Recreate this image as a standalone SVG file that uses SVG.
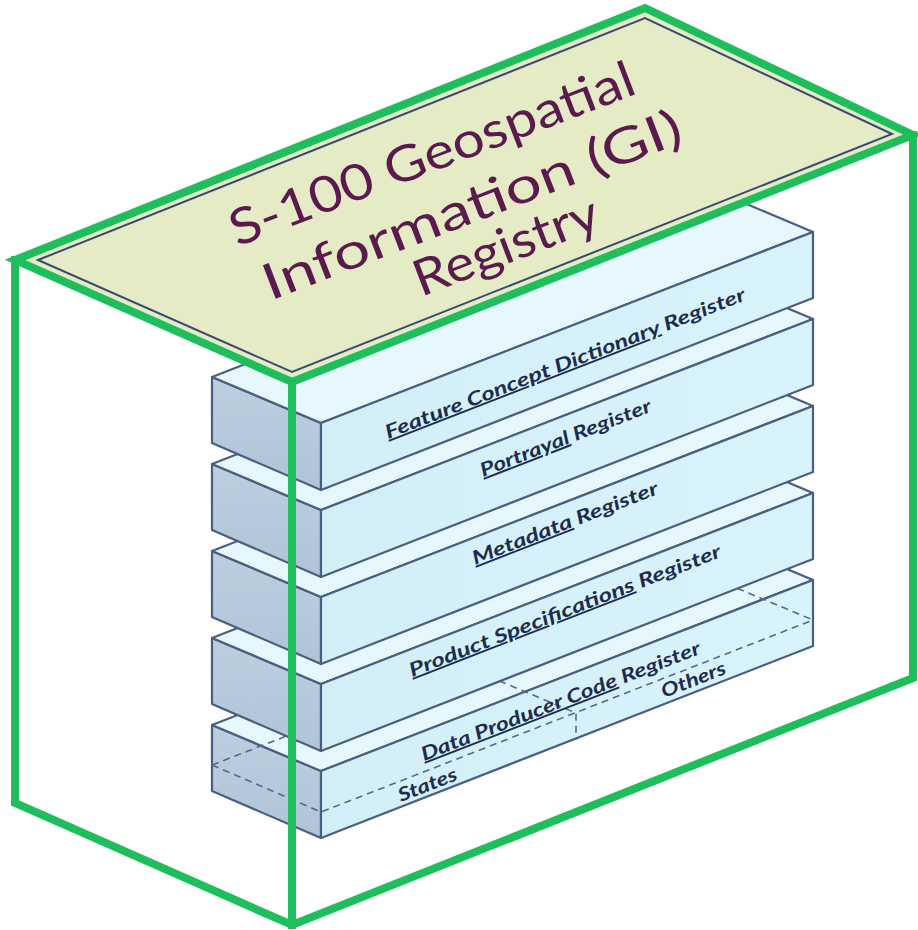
<svg xmlns="http://www.w3.org/2000/svg" width="918" height="930" viewBox="0 0 918 930">
  <defs>
    <linearGradient id="gEnd" x1="0" y1="0" x2="0" y2="1">
      <stop offset="0" stop-color="#bccfdf"/>
      <stop offset="1" stop-color="#b0c4d6"/>
    </linearGradient>
    <linearGradient id="gFront" x1="0" y1="0" x2="1" y2="0">
      <stop offset="0" stop-color="#d2eff8"/>
      <stop offset="1" stop-color="#d9f3fb"/>
    </linearGradient>
  </defs>
  <style>
    .end { fill: url(#gEnd); stroke: #4a5e80; stroke-width: 2.2; stroke-linejoin: round; }
    .top { fill: #e6f8fd; stroke: #4a5e80; stroke-width: 2.2; stroke-linejoin: round; }
    .front { fill: url(#gFront); stroke: #4a5e80; stroke-width: 2.2; stroke-linejoin: round; }
    .dash { fill: none; stroke: #55698a; stroke-width: 1.6; stroke-dasharray: 7 5; }
    .lbl { font-family: Lato, "Open Sans", sans-serif; font-weight: bold; font-style: italic; font-size: 19px; fill: #1e2c4c; }
    .ul { text-decoration: underline; }
    .title { font-family: Lato, "Open Sans", sans-serif; font-size: 50px; fill: #5a1a4e; text-anchor: middle; }
    .green { fill: none; stroke: #1fbe5c; stroke-width: 8; stroke-linejoin: miter; stroke-linecap: square; }
  </style>

  <!-- Registers, painted bottom to top -->
  <g id="register-data-producer-code">
    <path class="end" d="M212,725 L321,771 L321,838 L212,791 Z"/>
    <path class="top" d="M212,725 L704,534 L813,580 L321,771 Z"/>
    <path class="front" d="M321,771 L813,580 L813,646 L321,838 Z"/>
    <path class="dash" d="M212,765 L321,812 L813,620 M212,765 L703,574 L813,620 M466,667 L576,713 L576,740"/>
    <text class="lbl" transform="translate(424,761) rotate(-21.2)" textLength="298" lengthAdjust="spacingAndGlyphs"><tspan class="ul">Data Producer Code</tspan> Register</text>
    <text class="lbl" transform="translate(401,802) rotate(-21.2)" textLength="62" lengthAdjust="spacingAndGlyphs">States</text>
    <text class="lbl" transform="translate(664,698) rotate(-21.2)" textLength="68" lengthAdjust="spacingAndGlyphs">Others</text>
  </g>
  <g id="register-product-specifications">
    <path class="end" d="M212,638 L321,684 L321,751 L212,704 Z"/>
    <path class="top" d="M212,638 L704,447 L813,493 L321,684 Z"/>
    <path class="front" d="M321,684 L813,493 L813,559 L321,751 Z"/>
    <text class="lbl" transform="translate(412,677) rotate(-21.2)" textLength="333" lengthAdjust="spacingAndGlyphs"><tspan class="ul">Product Specifications</tspan> Register</text>
  </g>
  <g id="register-metadata">
    <path class="end" d="M212,551 L321,597 L321,664 L212,617 Z"/>
    <path class="top" d="M212,551 L704,360 L813,406 L321,597 Z"/>
    <path class="front" d="M321,597 L813,406 L813,472 L321,664 Z"/>
    <text class="lbl" transform="translate(475,565) rotate(-21.2)" textLength="198" lengthAdjust="spacingAndGlyphs"><tspan class="ul">Metadata</tspan> Register</text>
  </g>
  <g id="register-portrayal">
    <path class="end" d="M212,464 L321,510 L321,577 L212,530 Z"/>
    <path class="top" d="M212,464 L704,273 L813,319 L321,510 Z"/>
    <path class="front" d="M321,510 L813,319 L813,385 L321,577 Z"/>
    <text class="lbl" transform="translate(483,477) rotate(-21.2)" textLength="182" lengthAdjust="spacingAndGlyphs"><tspan class="ul">Portrayal</tspan> Register</text>
  </g>
  <g id="register-feature-concept-dictionary">
    <path class="end" d="M212,377 L321,423 L321,490 L212,443 Z"/>
    <path class="top" d="M212,377 L704,186 L813,232 L321,423 Z"/>
    <path class="front" d="M321,423 L813,232 L813,298 L321,490 Z"/>
    <text class="lbl" transform="translate(388,439) rotate(-21.2)" textLength="385" lengthAdjust="spacingAndGlyphs"><tspan class="ul">Feature Concept Dictionary</tspan>  Register</text>
  </g>

  <!-- Registry box -->
  <g id="registry">
    <polygon points="15,260 645,8 913,135 292,382" fill="#e5ecc5"/>
    <polygon points="38,260 645,18 892,134 292,372" fill="none" stroke="#3a4a72" stroke-width="2"/>
    <text class="title" transform="translate(438,170) rotate(-21)" textLength="430" lengthAdjust="spacingAndGlyphs">S-100 Geospatial</text>
    <text class="title" transform="translate(478,221) rotate(-21)" textLength="445" lengthAdjust="spacingAndGlyphs">Information (GI)</text>
    <text class="title" transform="translate(512,262) rotate(-21)" textLength="195" lengthAdjust="spacingAndGlyphs">Registry</text>
  </g>

  <g id="connectors">
    <polygon class="green" points="15,260 645,8 913,135 292,382"/>
    <path class="green" d="M15,260 L15,803 L292,925 L913,678 L913,135 M292,382 L292,925"/>
  </g>
</svg>
